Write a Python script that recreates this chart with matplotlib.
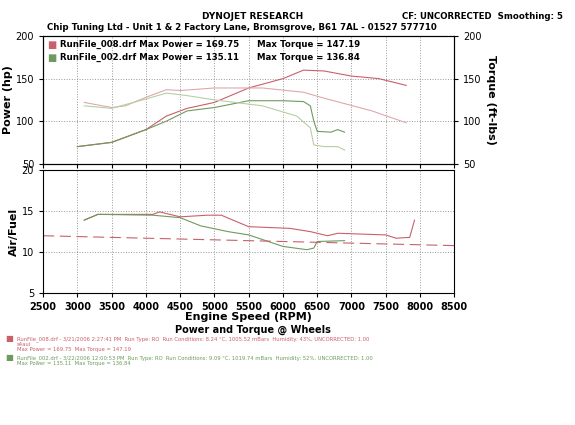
import matplotlib
matplotlib.use("Agg")
import matplotlib.pyplot as plt

red_p_rpm = [3000,3500,4000,4300,4600,5000,5500,6000,6300,6600,7000,7400,7800]
red_p = [70,75,90,106,115,122,139,150,160,159,153,150,142]
grn_p_rpm = [3000,3500,4000,4300,4600,5000,5500,6000,6300,6400,6450,6500,6700,6800,6900]
grn_p = [70,75,90,100,112,116,124,124,123,118,100,88,87,90,87]
red_t_rpm = [3100,3500,3700,4000,4300,4500,5000,5700,6300,6600,7300,7800]
red_t = [122,116,118,128,137,136,139,139,134,127,112,98]
grn_t_rpm = [3100,3500,4000,4300,4600,5000,5700,6200,6400,6450,6600,6800,6900]
grn_t = [118,115,126,133,130,125,118,106,92,72,70,70,66]
red_af_rpm = [3100,3300,4100,4200,4500,4900,5100,5500,6100,6400,6650,6800,7500,7650,7850,7920]
red_af = [13.9,14.6,14.6,14.9,14.3,14.5,14.5,13.1,12.9,12.5,12.0,12.3,12.1,11.7,11.8,13.9]
grn_af_rpm = [3100,3300,4100,4500,4800,5200,5500,6000,6350,6450,6500,6900]
grn_af = [13.9,14.6,14.5,14.2,13.2,12.5,12.1,10.7,10.3,10.5,11.3,11.4]
target_rpm = [2500,8500]
target_af = [12.0,10.8]

RED = "#c9606a"; LRED = "#e0a8ad"; GRN = "#6f9a5f"; LGRN = "#b5cfa5"

fig = plt.figure(figsize=(5.75,4.25), dpi=100)
fig.patch.set_facecolor("white")
ax1 = fig.add_axes([0.075,0.615,0.715,0.3])
ax2 = fig.add_axes([0.075,0.31,0.715,0.29])
for ax in (ax1, ax2):
    ax.set_xlim(2500,8500)
    ax.grid(True, ls=":", color="#999999", lw=0.7)
    ax.set_xticks(range(2500,9000,500))
    ax.tick_params(labelsize=7, length=3)
ax1.set_ylim(50,200); ax1.set_yticks([50,100,150,200])
ax1.tick_params(labelbottom=False)
ax1.plot(red_p_rpm, red_p, color=RED, lw=0.8)
ax1.plot(grn_p_rpm, grn_p, color=GRN, lw=0.8)
ax1.plot(red_t_rpm, red_t, color=LRED, lw=0.8)
ax1.plot(grn_t_rpm, grn_t, color=LGRN, lw=0.8)
ax1.set_ylabel("Power (hp)", fontsize=8, fontweight="bold", labelpad=2)
axr = ax1.twinx(); axr.set_ylim(50,200); axr.set_yticks([50,100,150,200])
axr.tick_params(labelsize=7, length=3)
axr.set_ylabel("Torque (ft-lbs)", fontsize=8, fontweight="bold", rotation=270, labelpad=10)
ax1.text(0.01,0.97,"\u25a0", color=RED, transform=ax1.transAxes, fontsize=7, va="top")
ax1.text(0.01,0.87,"\u25a0", color=GRN, transform=ax1.transAxes, fontsize=7, va="top")
ax1.text(0.04,0.97,"RunFile_008.drf Max Power = 169.75      Max Torque = 147.19", transform=ax1.transAxes, fontsize=6.2, fontweight="bold", va="top")
ax1.text(0.04,0.87,"RunFile_002.drf Max Power = 135.11      Max Torque = 136.84", transform=ax1.transAxes, fontsize=6.2, fontweight="bold", va="top")

ax2.set_ylim(5,20); ax2.set_yticks([5,10,15,20])
ax2.plot(red_af_rpm, red_af, color=RED, lw=0.8)
ax2.plot(grn_af_rpm, grn_af, color=GRN, lw=0.8)
ax2.plot(target_rpm, target_af, color=RED, lw=0.8, ls=(0,(10,5)))
ax2.set_ylabel("Air/Fuel", fontsize=8, fontweight="bold", labelpad=2)
ax2.set_xlabel("Engine Speed (RPM)", fontsize=8, fontweight="bold", labelpad=0)
for lbl in ax2.get_xticklabels(): lbl.set_fontweight("bold")

fig.text(0.44,0.955,"DYNOJET RESEARCH", fontsize=6.5, fontweight="bold", ha="center")
fig.text(0.42,0.93,"Chip Tuning Ltd - Unit 1 & 2 Factory Lane, Bromsgrove, B61 7AL - 01527 577710", fontsize=6.2, fontweight="bold", ha="center")
fig.text(0.70,0.955,"CF: UNCORRECTED  Smoothing: 5", fontsize=6.2, fontweight="bold")
fig.text(0.44,0.218,"Power and Torque @ Wheels", fontsize=7, fontweight="bold", ha="center")
fig.text(0.01,0.197,"\u25a0", color=RED, fontsize=6)
fig.text(0.03,0.199,"RunFile_008.drf - 3/21/2006 2:27:41 PM  Run Type: RO  Run Conditions: 8.24 \u00b0C, 1005.52 mBars  Humidity: 43%, UNCORRECTED: 1.00", color=RED, fontsize=3.8)
fig.text(0.03,0.186,"s4aui", color=RED, fontsize=3.8)
fig.text(0.03,0.173,"Max Power = 169.75  Max Torque = 147.19", color=RED, fontsize=3.8)
fig.text(0.01,0.152,"\u25a0", color=GRN, fontsize=6)
fig.text(0.03,0.154,"RunFile_002.drf - 3/22/2006 12:00:53 PM  Run Type: RO  Run Conditions: 9.09 \u00b0C, 1019.74 mBars  Humidity: 52%, UNCORRECTED: 1.00", color=GRN, fontsize=3.8)
fig.text(0.03,0.141,"Max Power = 135.11  Max Torque = 136.84", color=GRN, fontsize=3.8)
fig.savefig("out.png", dpi=100)
